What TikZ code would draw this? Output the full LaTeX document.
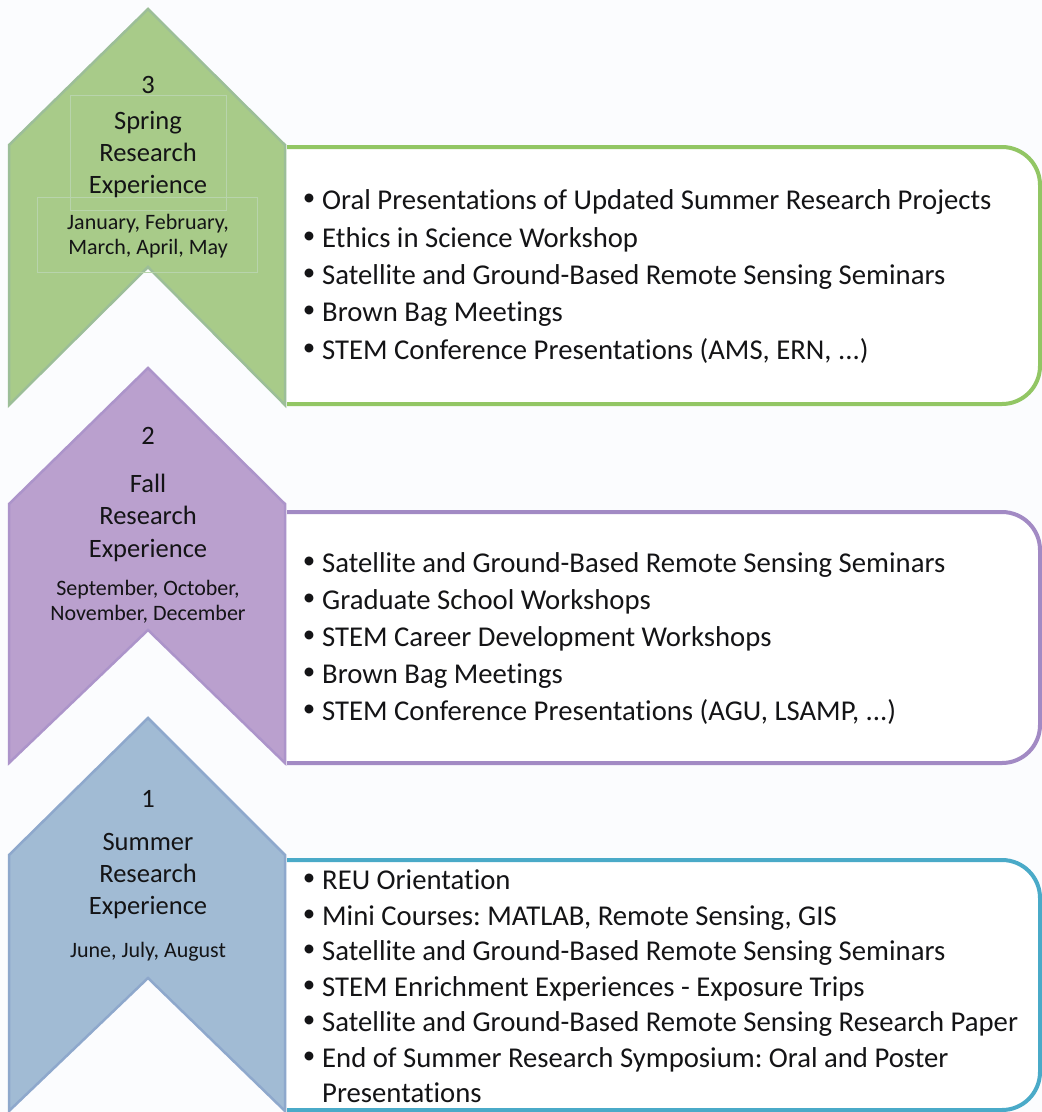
\documentclass[tikz,border=0pt]{standalone}
\usepackage{fontspec}
\setmainfont{Carlito}[Ligatures=NoCommon]
\frenchspacing
\definecolor{bgc}{RGB}{251,252,254}
\definecolor{gfill}{RGB}{168,203,137}
\definecolor{gedge}{RGB}{156,190,152}
\definecolor{gline}{RGB}{146,198,100}
\definecolor{gframe}{RGB}{184,212,172}
\definecolor{pfill}{RGB}{186,160,206}
\definecolor{pedge}{RGB}{172,148,202}
\definecolor{pline}{RGB}{162,138,196}
\definecolor{bfill}{RGB}{161,187,212}
\definecolor{bedge}{RGB}{142,168,204}
\definecolor{bline}{RGB}{74,170,200}
\definecolor{txt}{RGB}{20,20,22}
\tikzset{
  chev/.style={line width=2.5pt, line join=miter},
  boxline/.style={line width=4pt, rounded corners=38pt, fill=white},
  ttl/.style={text=txt, font=\fontsize{26.5}{30}\selectfont, inner sep=0pt, anchor=center, text height=18pt, text depth=5pt},
  mon/.style={text=txt, font=\fontsize{22}{25}\selectfont, inner sep=0pt, anchor=center, align=center},
  itm/.style={text=txt, font=\fontsize{28.7}{34}\selectfont, inner sep=0pt, anchor=west, text height=20pt, text depth=6pt, yshift=-2pt},
  bul/.style={text=txt, font=\fontsize{25}{30}\selectfont, inner sep=0pt, anchor=center},
  tframe/.style={draw=gframe, line width=1pt}
}
\begin{document}
\begin{tikzpicture}[x=1pt,y=-1pt]
\useasboundingbox (0,0) rectangle (1042,1112);
\fill[bgc] (0,0) rectangle (1042,1112);

% ---------- stage 3 (green) ----------
\draw[boxline, draw=gline] (287,147) -- (1040,147) -- (1040,404) -- (287,404);
\draw[chev, fill=gfill, draw=gedge] (9,145) -- (148,9) -- (285,145) -- (285,405) -- (148,267) -- (9,405) -- cycle;
\draw[tframe] (70,95) rectangle (226,210);
\draw[tframe] (37,197) rectangle (257,272);
\node[ttl] (n3) at (148,87) {3};
\node[ttl] (s3a) at (148,123) {Spring};
\node[ttl] (s3b) at (148,155) {Research};
\node[ttl] (s3c) at (148,187) {Experience};
\node[mon] (m3) at (148,236) {January, February,\\March, April, May};

\foreach \y/\t [count=\i] in {200/Oral Presentations of Updated Summer Research Projects,
  238/Ethics in Science Workshop,
  275/Satellite and Ground-Based Remote Sensing Seminars,
  312/Brown Bag Meetings,
  350/{STEM Conference Presentations (AMS, ERN, ...)}}{
  \node[bul] (g\i b) at (309,\y) {•};
  \node[itm] (g\i) at (322,\y) {\t};
}

% ---------- stage 2 (purple) ----------
\draw[boxline, draw=pline] (287,512) -- (1040,512) -- (1040,763) -- (287,763);
\draw[chev, fill=pfill, draw=pedge] (9,504) -- (148,368) -- (285,504) -- (285,763) -- (148,630) -- (9,763) -- cycle;
\node[ttl] (n2) at (148,438) {2};
\node[ttl] (s2a) at (148,486) {Fall};
\node[ttl] (s2b) at (148,518) {Research};
\node[ttl] (s2c) at (148,551) {Experience};
\node[mon] (m2) at (148,602) {September, October,\\November, December};

\foreach \y/\t [count=\i] in {563/Satellite and Ground-Based Remote Sensing Seminars,
  600/Graduate School Workshops,
  637/STEM Career Development Workshops,
  674/Brown Bag Meetings,
  711/{STEM Conference Presentations (AGU, LSAMP, ...)}}{
  \node[bul] (p\i b) at (309,\y) {•};
  \node[itm] (p\i) at (322,\y) {\t};
}

% ---------- stage 1 (blue) ----------
\draw[boxline, draw=bline] (287,860) -- (1040,860) -- (1040,1110) -- (287,1110);
\draw[chev, fill=bfill, draw=bedge] (9,855) -- (148,718) -- (285,855) -- (285,1111) -- (148,978) -- (9,1111) -- cycle;
\node[ttl] (n1) at (148,801) {1};
\node[ttl] (s1a) at (148,844) {Summer};
\node[ttl] (s1b) at (148,876) {Research};
\node[ttl] (s1c) at (148,908) {Experience};
\node[mon] (m1) at (148,952) {June, July, August};

\foreach \y/\t [count=\i] in {880/REU Orientation,
  916/{Mini Courses: MATLAB, Remote Sensing, GIS},
  951/Satellite and Ground-Based Remote Sensing Seminars,
  987/STEM Enrichment Experiences - Exposure Trips,
  1022/Satellite and Ground-Based Remote Sensing Research Paper,
  1058/End of Summer Research Symposium: Oral and Poster}{
  \node[bul] (u\i b) at (309,\y) {•};
  \node[itm] (u\i) at (322,\y) {\t};
}
\node[itm] (u7) at (322,1093) {Presentations};
\end{tikzpicture}
\end{document}
